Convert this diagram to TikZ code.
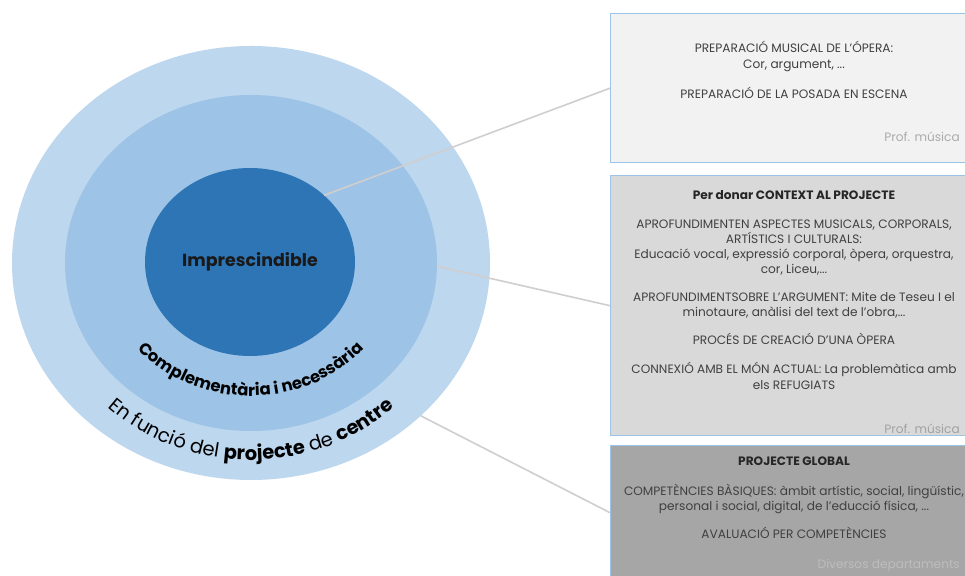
\documentclass[tikz,border=0pt]{standalone}
\usepackage{fontspec}
\setmainfont{Poppins}
\usetikzlibrary{shapes.geometric,decorations.text}
\definecolor{ringA}{HTML}{BDD7EE}
\definecolor{ringB}{HTML}{9DC3E6}
\definecolor{ringC}{HTML}{2E75B6}
\definecolor{linkgray}{HTML}{D0CECE}
\definecolor{boxA}{HTML}{F2F2F2}
\definecolor{boxB}{HTML}{D9D9D9}
\definecolor{boxC}{HTML}{A6A6A6}
\definecolor{boxedge}{HTML}{9DC3E6}
\definecolor{txt}{HTML}{404040}
\definecolor{notea}{HTML}{ABABAB}
\definecolor{noteb}{HTML}{A2A2A2}
\definecolor{notec}{HTML}{BDBDBD}
\newcommand\crvmid{\fontsize{16.5}{17}\selectfont\bfseries}
\newcommand\crvreg{\fontsize{19.5}{20}\selectfont\mdseries}
\newcommand\crvbold{\fontsize{19.5}{20}\selectfont\bfseries}
\begin{document}
\begin{tikzpicture}[x=1bp,y=1bp,
  ring/.style={ellipse, draw=none, inner sep=0pt, outer sep=0pt},
  link/.style={draw=linkgray, line width=1.6bp},
  infobox/.style={rectangle, draw=boxedge, line width=1.4bp, anchor=north west, minimum width=370bp, inner sep=0pt},
  boxtxt/.style={font=\fontsize{12.2}{13}\selectfont, text=txt, anchor=base, inner sep=0pt},
  boxhead/.style={boxtxt, font=\fontsize{12.2}{13}\selectfont\bfseries, text=black!85},
  boxnote/.style={font=\fontsize{12.2}{13}\selectfont, anchor=base east, inner sep=0pt}
]
\useasboundingbox (0,0) rectangle (965,576);
\clip (0,0) rectangle (965,576);
\fill[white] (0,0) rectangle (965,576);

% rings
\node[ring, fill=ringA, minimum width=478bp, minimum height=434bp] (outer) at (251,313) {};
\node[ring, fill=ringB, minimum width=372bp, minimum height=336bp] (middle) at (251,313) {};
\node[ring, fill=ringC, minimum width=210bp, minimum height=188bp, font=\fontsize{17.5}{19}\selectfont\bfseries, text=black!90] (inner) at (250,314) {Imprescindible};

% curved labels
\path[decorate, decoration={text along path, text align=center,
  text={|\crvmid|Complementària i necessària}}]
  ([shift={(251,313)}]190:148 and 133) arc[start angle=190, end angle=350, x radius=148, y radius=133];
\path[decorate, decoration={text along path, text align=center,
  text={|\crvreg|En funció del |\crvbold|projecte|\crvreg| de |\crvbold|centre}}]
  ([shift={(251,313)}]195:210 and 197) arc[start angle=195, end angle=345, x radius=210, y radius=197];

% boxes
\node[infobox, fill=boxA, minimum height=149bp] (box1) at (610,563) {};
\node[infobox, fill=boxB, minimum height=260bp] (box2) at (610,401) {};
\node[infobox, fill=boxC, minimum height=134bp] (box3) at (610,131) {};

% connectors
\draw[link] (inner.42) -- (box1.west);
\draw[link] (middle.-1) -- (box2.west);
\draw[link] (outer.-42) -- (box3.west);

% box 1 text
\node[boxtxt] (b1l1) at (794,523) {PREPARACIÓ MUSICAL DE L’ÓPERA:};
\node[boxtxt] (b1l2) at (794,507) {Cor, argument, ...};
\node[boxtxt] (b1l3) at (794,477) {PREPARACIÓ DE LA POSADA EN ESCENA};
\node[boxnote, text=notea] (b1n) at (960,434) {Prof. música};

% box 2 text
\node[boxhead] (b2h) at (794,376) {Per donar CONTEXT AL PROJECTE};
\node[boxtxt] (b2l1) at (794,347) {APROFUNDIMENTEN ASPECTES MUSICALS, CORPORALS,};
\node[boxtxt] (b2l2) at (794,332) {ARTÍSTICS I CULTURALS:};
\node[boxtxt] (b2l3) at (794,317) {Educació vocal, expressió corporal, òpera, orquestra,};
\node[boxtxt] (b2l4) at (794,302) {cor, Liceu,...};
\node[boxtxt] (b2l5) at (794,274) {APROFUNDIMENTSOBRE L’ARGUMENT: Mite de Teseu I el};
\node[boxtxt] (b2l6) at (794,259) {minotaure, anàlisi del text de l’obra,...};
\node[boxtxt] (b2l7) at (794,231) {PROCÉS DE CREACIÓ D’UNA ÒPERA};
\node[boxtxt] (b2l8) at (794,202) {CONNEXIÓ AMB EL MÓN ACTUAL: La problemàtica amb};
\node[boxtxt] (b2l9) at (794,186) {els REFUGIATS};
\node[boxnote, text=noteb] (b2n) at (960,142) {Prof. música};

% box 3 text
\node[boxhead] (b3h) at (794,110) {PROJECTE GLOBAL};
\node[boxtxt] (b3l1) at (794,80) {COMPETÈNCIES BÀSIQUES: àmbit artístic, social, lingüístic,};
\node[boxtxt] (b3l2) at (794,65) {personal i social, digital, de l’educció física, ...};
\node[boxtxt] (b3l3) at (794,37) {AVALUACIÓ PER COMPETÈNCIES};
\node[boxnote, text=notec] (b3n) at (960,7) {Diversos departaments};
\end{tikzpicture}
\end{document}
